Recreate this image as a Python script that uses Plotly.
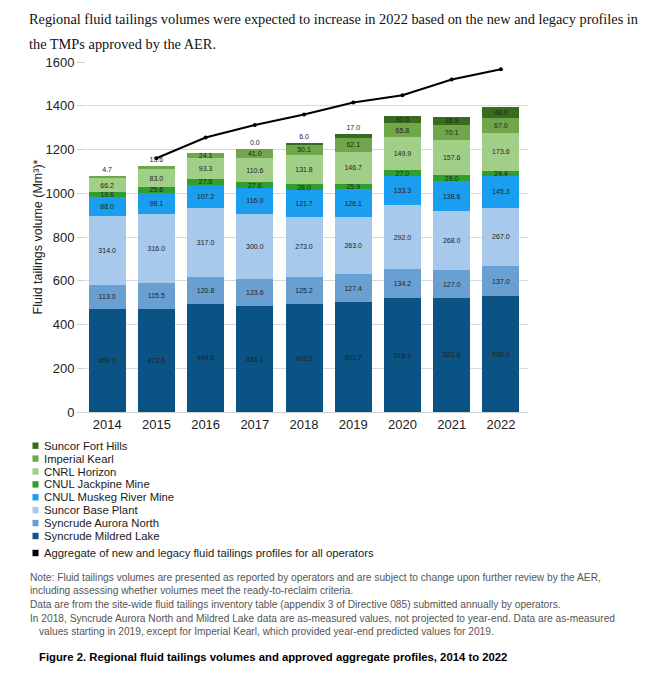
import plotly.graph_objects as go

years = ["2014", "2015", "2016", "2017", "2018", "2019", "2020", "2021", "2022"]

mildred_lake = [469.6, 472.6, 494.6, 483.1, 493.5, 501.7, 518.9, 521.6, 530.0]
aurora_north = [113.0, 115.5, 120.8, 123.6, 125.2, 127.4, 134.2, 127.0, 137.0]
suncor_base = [314.0, 316.0, 317.0, 300.0, 273.0, 263.0, 292.0, 268.0, 267.0]
muskeg_river = [88.0, 98.1, 107.2, 116.0, 121.7, 126.1, 133.3, 138.6, 145.3]
jackpine = [19.6, 25.6, 27.6, 27.6, 28.0, 25.9, 27.0, 29.0, 24.4]
cnrl_horizon = [66.2, 83.0, 93.3, 110.6, 131.8, 146.7, 149.9, 157.6, 173.6]
imperial_kearl = [4.7, 13.6, 24.1, 41.0, 50.1, 62.1, 65.8, 70.1, 67.0]
fort_hills = [None, None, None, 0.0, 6.0, 17.0, 30.0, 36.9, 48.0]

aggregate_years = ["2015", "2016", "2017", "2018", "2019", "2020", "2021", "2022"]
aggregate = [1160, 1255, 1312, 1360, 1415, 1448, 1520, 1567]

series_names = ["Syncrude Mildred Lake", "Syncrude Aurora North", "Suncor Base Plant",
                "CNUL Muskeg River Mine", "CNUL Jackpine Mine", "CNRL Horizon",
                "Imperial Kearl", "Suncor Fort Hills"]
series_values = [mildred_lake, aurora_north, suncor_base, muskeg_river, jackpine,
                 cnrl_horizon, imperial_kearl, fort_hills]
series_colors = ["#0b5384", "#6a9fd2", "#a6c9ec", "#1a9ff0", "#2f9e2f",
                 "#a2cf88", "#6fa74a", "#386b1d"]
aggregate_name = "Aggregate of new and legacy fluid tailings profiles for all operators"

# figure geometry (pixels)
W, H = 664, 680
L, R, T, B = 86, 528, 62, 412


def px(x, y):
    return (x - L) / (R - L), (B - y) / (B - T)


fig = go.Figure()

label_font = dict(family="Liberation Sans", size=7, color="#222222")

for idx, (name, vals, col) in enumerate(zip(series_names, series_values, series_colors)):
    texts, positions = [], []
    for i, v in enumerate(vals):
        if v is None:
            texts.append("")
            positions.append("inside")
            continue
        texts.append(f"{v:.1f}")
        top = all(later[i] is None for later in series_values[idx + 1:])
        positions.append("outside" if (top and v < 20) else "inside")
    fig.add_trace(go.Bar(
        x=years, y=vals, name=name, marker=dict(color=col, line=dict(width=0)),
        text=texts, textposition=positions, textangle=0,
        insidetextanchor="middle", constraintext="none",
        textfont=label_font, insidetextfont=label_font, outsidetextfont=label_font,
        cliponaxis=False, showlegend=False,
    ))

fig.add_trace(go.Scatter(
    x=aggregate_years, y=aggregate, name=aggregate_name, mode="lines+markers",
    line=dict(color="#000000", width=2), marker=dict(color="#000000", size=4),
    showlegend=False,
))

shapes = []
annotations = []

# manual compact legend
legend_order = list(reversed(list(zip(series_names, series_colors))))
for i, (name, col) in enumerate(legend_order):
    yc = 445.7 + i * 12.9
    x0, y0 = px(32.5, yc - 3.2)
    x1, y1 = px(38.5, yc + 3.2)
    shapes.append(dict(type="rect", xref="paper", yref="paper", x0=x0, x1=x1, y0=y0, y1=y1,
                       fillcolor=col, line=dict(width=0)))
    ax, ay = px(42, yc)
    annotations.append(dict(text=name, xref="paper", yref="paper", x=ax, y=ay,
                            xanchor="left", yanchor="middle", showarrow=False,
                            font=dict(family="Liberation Sans", size=11.3, color="#1a1a1a")))
yc = 553
x0, y0 = px(32.5, yc - 3.2)
x1, y1 = px(38.5, yc + 3.2)
shapes.append(dict(type="rect", xref="paper", yref="paper", x0=x0, x1=x1, y0=y0, y1=y1,
                   fillcolor="#000000", line=dict(width=0)))
ax, ay = px(42, yc)
annotations.append(dict(text=aggregate_name, xref="paper", yref="paper", x=ax, y=ay,
                        xanchor="left", yanchor="middle", showarrow=False,
                        font=dict(family="Liberation Sans", size=11.3, color="#1a1a1a")))

# heading text
for line, yy in [("Regional fluid tailings volumes were expected to increase in 2022 based on the new and legacy profiles in", 19),
                 ("the TMPs approved by the AER.", 44)]:
    ax, ay = px(27, yy)
    annotations.append(dict(text=line, xref="paper", yref="paper", x=ax, y=ay,
                            xanchor="left", yanchor="middle", showarrow=False,
                            font=dict(family="Liberation Serif", size=14.35, color="#111111")))

# notes
notes = [
    ("Note: Fluid tailings volumes are presented as reported by operators and are subject to change upon further review by the AER,", 28, 577),
    ("including assessing whether volumes meet the ready-to-reclaim criteria.", 28, 590),
    ("Data are from the site-wide fluid tailings inventory table (appendix 3 of Directive 085) submitted annually by operators.", 28, 604),
    ("In 2018, Syncrude Aurora North and Mildred Lake data are as-measured values, not projected to year-end. Data are as-measured", 28, 618),
    ("values starting in 2019, except for Imperial Kearl, which provided year-end predicted values for 2019.", 37, 631),
]
for txt, xx, yy in notes:
    ax, ay = px(xx, yy)
    annotations.append(dict(text=txt, xref="paper", yref="paper", x=ax, y=ay,
                            xanchor="left", yanchor="middle", showarrow=False,
                            font=dict(family="Liberation Sans", size=10.2, color="#555555")))

ax, ay = px(37, 657)
annotations.append(dict(text="<b>Figure 2. Regional fluid tailings volumes and approved aggregate profiles, 2014 to 2022</b>",
                        xref="paper", yref="paper", x=ax, y=ay, xanchor="left", yanchor="middle",
                        showarrow=False, font=dict(family="Liberation Sans", size=11.3, color="#000000")))

fig.update_layout(
    width=W, height=H,
    margin=dict(l=L, r=W - R, t=T, b=H - B),
    paper_bgcolor="white", plot_bgcolor="white",
    barmode="stack", bargap=0.25,
    shapes=shapes, annotations=annotations,
    font=dict(family="Liberation Sans", color="#333333"),
    xaxis=dict(type="category", range=[-0.43, 8.55], showgrid=False,
               showline=True, linecolor="#d0d0d0", linewidth=1,
               ticks="", tickfont=dict(size=13, color="#222222")),
    yaxis=dict(range=[0, 1600], tickvals=[0, 200, 400, 600, 800, 1000, 1200, 1400, 1600],
               showgrid=True, gridcolor="#d9d9d9", gridwidth=1, zeroline=False,
               ticks="outside", ticklen=8, tickcolor="#d0d0d0",
               tickfont=dict(size=13, color="#222222"),
               title=dict(text="Fluid tailings volume (Mm³)*", font=dict(size=12.5, color="#222222"),
                          standoff=0)),
)

fig.write_html("out.html")
